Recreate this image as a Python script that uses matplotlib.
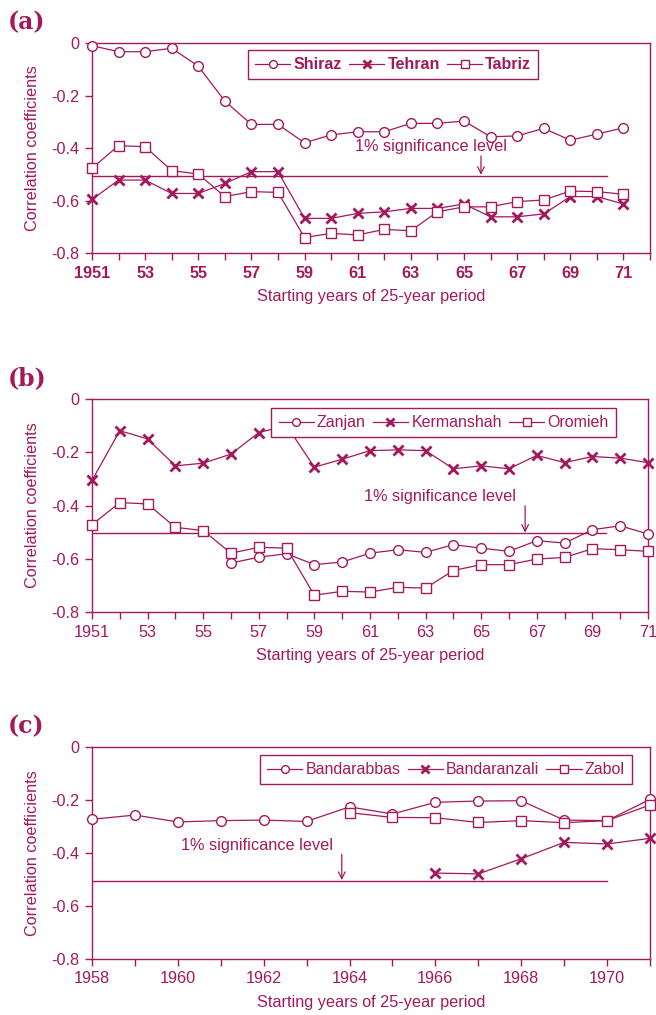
import numpy as np
import matplotlib
matplotlib.use('Agg')
import matplotlib.pyplot as plt

plt.rcParams['font.family'] = ['Liberation Sans', 'DejaVu Sans']

COL = '#A3195B'

# ---- data: panel (a)
years_a = list(range(1951, 1972))
shiraz = [-0.01, -0.033, -0.033, -0.02, -0.088, -0.221, -0.31, -0.31, -0.38, -0.35, -0.338,
          -0.338, -0.306, -0.306, -0.297, -0.357, -0.354, -0.325, -0.37, -0.347, -0.323]
tehran = [-0.596, -0.522, -0.522, -0.573, -0.573, -0.535, -0.49, -0.49, -0.668, -0.668, -0.649,
          -0.643, -0.63, -0.63, -0.613, -0.662, -0.662, -0.651, -0.585, -0.585, -0.613]
tabriz = [-0.477, -0.391, -0.395, -0.486, -0.499, -0.585, -0.566, -0.569, -0.741, -0.725, -0.731,
          -0.71, -0.715, -0.643, -0.624, -0.624, -0.604, -0.598, -0.564, -0.566, -0.576]

# ---- data: panel (b)
years_b = list(range(1951, 1972))
years_zanjan = list(range(1956, 1972))
zanjan = [-0.616, -0.594, -0.581, -0.622, -0.612, -0.579, -0.566, -0.576, -0.547, -0.56,
          -0.572, -0.532, -0.541, -0.491, -0.476, -0.507]
kermanshah = [-0.306, -0.119, -0.15, -0.251, -0.241, -0.207, -0.126, -0.10, -0.256, -0.226, -0.194,
              -0.191, -0.194, -0.262, -0.251, -0.262, -0.212, -0.239, -0.216, -0.222, -0.239]
oromieh = [-0.472, -0.389, -0.394, -0.482, -0.494, -0.579, -0.557, -0.56, -0.737, -0.722, -0.725,
           -0.707, -0.71, -0.644, -0.622, -0.622, -0.601, -0.595, -0.562, -0.566, -0.572]

# ---- data: panel (c)
years_abbas = list(range(1958, 1972))
bandarabbas = [-0.273, -0.257, -0.283, -0.278, -0.276, -0.281, -0.226, -0.253, -0.209, -0.204,
               -0.203, -0.276, -0.278, -0.198]
years_anzali = list(range(1966, 1972))
bandaranzali = [-0.476, -0.479, -0.422, -0.36, -0.366, -0.345]
years_zabol = list(range(1964, 1972))
zabol = [-0.248, -0.266, -0.267, -0.285, -0.278, -0.286, -0.278, -0.219]

sig_level = -0.505

fig = plt.figure(figsize=(6.56, 10.15), dpi=100)

panels = [
    dict(rect=[0.1402, 0.7507, 0.8506, 0.2069], xlim=(1951, 1972), tag='(a)', tag_y=0.978,
         series=[(years_a, shiraz, 'Shiraz', 'o'), (years_a, tehran, 'Tehran', 'x'),
                 (years_a, tabriz, 'Tabriz', 's')],
         sig_end=1970.4, arrow_x=1965.64, text_x=1960.9, text_y=-0.395,
         leg=(0.2796, 0.967), bold=True, labels=range(1951, 1973, 2)),
    dict(rect=[0.1402, 0.397, 0.8476, 0.2099], xlim=(1951, 1971), tag='(b)', tag_y=0.627,
         series=[(years_zanjan, zanjan, 'Zanjan', 'o'), (years_b, kermanshah, 'Kermanshah', 'x'),
                 (years_b, oromieh, 'Oromieh', 's')],
         sig_end=1969.5, arrow_x=1966.58, text_x=1960.8, text_y=-0.366,
         leg=(0.3226, 0.958), bold=False, labels=range(1951, 1972, 2)),
    dict(rect=[0.1402, 0.0552, 0.8506, 0.2089], xlim=(1958, 1971), tag='(c)', tag_y=0.285,
         series=[(years_abbas, bandarabbas, 'Bandarabbas', 'o'),
                 (years_anzali, bandaranzali, 'Bandaranzali', 'x'),
                 (years_zabol, zabol, 'Zabol', 's')],
         sig_end=1970.0, arrow_x=1963.82, text_x=1960.07, text_y=-0.37,
         leg=(0.301, 0.962), bold=False, labels=range(1958, 1971, 2)),
]

for p in panels:
    ax = fig.add_axes(p['rect'])
    fw = 'bold' if p['bold'] else 'normal'
    for xs, ys, name, m in p['series']:
        if m == 'x':
            ax.plot(xs, ys, color=COL, lw=0.9, marker='x', ms=7, mew=2.0, label=name,
                    zorder=3, clip_on=False)
        else:
            ax.plot(xs, ys, color=COL, lw=0.9, marker=m, ms=7 if m == 'o' else 7.5,
                    mfc='white', mec=COL, mew=1.0, label=name, zorder=3, clip_on=False)

    # 1% significance line
    ax.plot([p['xlim'][0], p['sig_end']], [sig_level, sig_level], color=COL, lw=1.0, zorder=2)
    ax.annotate('', xy=(p['arrow_x'], sig_level + 0.003), xytext=(p['arrow_x'], p['text_y'] - 0.035),
                arrowprops=dict(arrowstyle='->', color=COL, lw=0.9, shrinkA=0, shrinkB=0,
                                mutation_scale=12))
    ax.text(p['text_x'], p['text_y'], '1% significance level', color=COL, fontsize=11.7,
            va='center', ha='left')

    ax.set_xlim(*p['xlim'])
    ax.set_ylim(-0.8, 0)
    ax.set_xticks(range(p['xlim'][0], p['xlim'][1] + 1))
    lbls = [(str(y) if (y == p['xlim'][0] or p['xlim'][0] == 1958) else '%02d' % (y % 100))
            if y in p['labels'] else '' for y in range(p['xlim'][0], p['xlim'][1] + 1)]
    ax.set_xticklabels(lbls, fontweight=fw)
    ax.set_yticks([0, -0.2, -0.4, -0.6, -0.8])
    ax.set_yticklabels(['0', '-0.2', '-0.4', '-0.6', '-0.8'])
    ax.tick_params(colors=COL, labelsize=11.7, direction='out', length=5, width=1.0, pad=4)
    for s in ax.spines.values():
        s.set_color(COL)
        s.set_linewidth(1.0)
    ax.set_ylabel('Correlation coefficients', color=COL, fontsize=11.7, labelpad=8)
    ax.set_xlabel('Starting years of 25-year period', color=COL, fontsize=11.7, labelpad=6)

    leg = ax.legend(loc='upper left', bbox_to_anchor=p['leg'], ncol=3, frameon=True, fancybox=False,
                    framealpha=1.0, numpoints=1, handlelength=2.2, handletextpad=0.2,
                    columnspacing=0.45, borderpad=0.45, borderaxespad=0, markerscale=0.8,
                    prop=dict(size=11.5, weight=fw))
    leg.get_frame().set_edgecolor(COL)
    leg.get_frame().set_linewidth(1.0)
    leg.set_zorder(5)
    for t in leg.get_texts():
        t.set_color(COL)

    fig.text(0.012, p['tag_y'], p['tag'], color=COL, fontsize=17, fontweight='bold',
             family=['DejaVu Serif'], va='center', ha='left')

fig.savefig('out.png', dpi=100)
